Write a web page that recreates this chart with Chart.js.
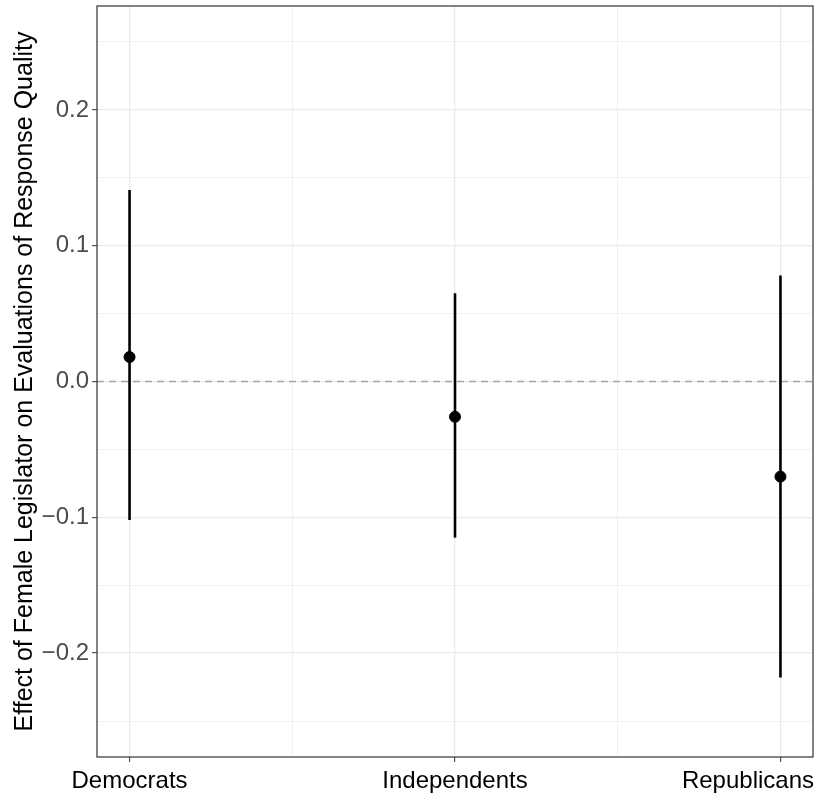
<!DOCTYPE html>
<html lang="en">

<head>
    <meta charset="UTF-8">
    <title>Efeito por partido</title>
    <script src="https://cdn.jsdelivr.net/npm/chart.js"></script>
    <style>
        body {
            margin: 0;
            background: #ffffff;
        }

        .campo_grafico {
            width: 816px;
            height: 801px;
        }
    </style>
</head>

<body>
    <div class="campo_grafico">
        <canvas id="graficoEfeito" width="816" height="801"></canvas>
    </div>

    <script>
        // dados
        const categorias = ['Democrats', 'Independents', 'Republicans'];
        const posicoes = [1, 2, 3];
        const estimativas = [0.018, -0.026, -0.070];
        const limiteInferior = [-0.102, -0.115, -0.218];
        const limiteSuperior = [0.141, 0.065, 0.078];
        const ticksY = [-0.2, -0.1, 0, 0.1, 0.2];
        const ticksYMenores = [-0.25, -0.15, -0.05, 0.05, 0.15, 0.25];
        const ticksXMenores = [1.5, 2.5];

        const corGrade = '#EBEBEB';
        const corBorda = '#333333';
        const fonte = 'Liberation Sans, Arial, sans-serif';

        function ehMaior(lista, valor) {
            return lista.some(v => Math.abs(v - valor) < 1e-9);
        }

        // linha tracejada no zero
        const linhaZero = {
            id: 'linhaZero',
            beforeDatasetsDraw(chart) {
                const { ctx, chartArea, scales } = chart;
                const y = scales.y.getPixelForValue(0);
                ctx.save();
                ctx.strokeStyle = '#A6A6A6';
                ctx.lineWidth = 1.4;
                ctx.setLineDash([7, 5]);
                ctx.beginPath();
                ctx.moveTo(chartArea.left, y);
                ctx.lineTo(chartArea.right, y);
                ctx.stroke();
                ctx.restore();
            }
        };

        // moldura do painel + nomes das categorias (o ultimo fica dentro do canvas)
        const moldura = {
            id: 'moldura',
            afterDraw(chart) {
                const { ctx, chartArea, scales } = chart;
                ctx.save();
                ctx.strokeStyle = corBorda;
                ctx.lineWidth = 1.2;
                ctx.strokeRect(chartArea.left, chartArea.top, chartArea.right - chartArea.left, chartArea.bottom - chartArea.top);

                ctx.font = '24px ' + fonte;
                ctx.fillStyle = '#000000';
                ctx.textBaseline = 'alphabetic';
                ctx.textAlign = 'left';
                for (let i = 0; i < categorias.length; i++) {
                    const largura = ctx.measureText(categorias[i]).width;
                    let x = scales.x.getPixelForValue(posicoes[i]) - largura / 2;
                    x = Math.max(2, Math.min(x, chart.width - 2 - largura));
                    ctx.fillText(categorias[i], x, chartArea.bottom + 31);
                }
                ctx.restore();
            }
        };

        // uma linha por categoria para o intervalo
        const datasetsIntervalo = [];
        for (let posicao = 0; posicao < categorias.length; posicao++) {
            datasetsIntervalo.push({
                type: 'line',
                label: categorias[posicao] + ' IC',
                data: [
                    { x: posicoes[posicao], y: limiteInferior[posicao] },
                    { x: posicoes[posicao], y: limiteSuperior[posicao] }
                ],
                borderColor: '#000000',
                borderWidth: 2.6,
                pointRadius: 0,
                order: 2
            });
        }

        const pontos = posicoes.map((p, i) => ({ x: p, y: estimativas[i] }));

        const ctx = document.getElementById('graficoEfeito');

        new Chart(ctx, {
            type: 'scatter',
            data: {
                datasets: [{
                    label: 'Estimativa',
                    data: pontos,
                    backgroundColor: '#000000',
                    borderColor: '#000000',
                    pointRadius: 5.5,
                    order: 1
                }].concat(datasetsIntervalo)
            },
            options: {
                responsive: false,
                animation: false,
                layout: {
                    autoPadding: false,
                    padding: { top: 6, right: 3, left: 0, bottom: 0 }
                },
                plugins: {
                    legend: { display: false },
                    tooltip: { enabled: false }
                },
                scales: {
                    x: {
                        type: 'linear',
                        min: 0.9,
                        max: 3.1,
                        afterBuildTicks: function (scale) {
                            scale.ticks = posicoes.concat(ticksXMenores).sort((a, b) => a - b).map(v => ({ value: v }));
                        },
                        afterFit: function (scale) {
                            scale.height = 44;
                            scale.paddingLeft = 0;
                            scale.paddingRight = 0;
                        },
                        border: { display: false },
                        grid: {
                            color: corGrade,
                            lineWidth: c => ehMaior(posicoes, c.tick.value) ? 1.3 : 0.7,
                            tickColor: c => ehMaior(posicoes, c.tick.value) ? corBorda : 'transparent',
                            tickLength: 5,
                            tickWidth: 1
                        },
                        ticks: {
                            autoSkip: false,
                            maxRotation: 0,
                            callback: function () {
                                return '';
                            }
                        }
                    },
                    y: {
                        type: 'linear',
                        min: -0.2765,
                        max: 0.2765,
                        afterBuildTicks: function (scale) {
                            scale.ticks = ticksY.concat(ticksYMenores).sort((a, b) => a - b).map(v => ({ value: v }));
                        },
                        afterFit: function (scale) {
                            scale.width = 97;
                            scale.paddingTop = 0;
                            scale.paddingBottom = 0;
                        },
                        border: { display: false },
                        grid: {
                            color: corGrade,
                            lineWidth: c => ehMaior(ticksY, c.tick.value) ? 1.3 : 0.7,
                            tickColor: c => ehMaior(ticksY, c.tick.value) ? corBorda : 'transparent',
                            tickLength: 5,
                            tickWidth: 1
                        },
                        title: {
                            display: true,
                            text: 'Effect of Female Legislator on Evaluations of Response Quality',
                            color: '#000000',
                            font: { family: fonte, size: 25 },
                            padding: { top: 10, bottom: 0 }
                        },
                        ticks: {
                            autoSkip: false,
                            padding: 3,
                            color: '#4D4D4D',
                            font: { family: fonte, size: 24 },
                            callback: function (valor) {
                                if (!ehMaior(ticksY, valor)) return '';
                                return valor.toFixed(1).replace('-', '\u2212');
                            }
                        }
                    }
                }
            },
            plugins: [linhaZero, moldura]
        });
    </script>
</body>

</html>
